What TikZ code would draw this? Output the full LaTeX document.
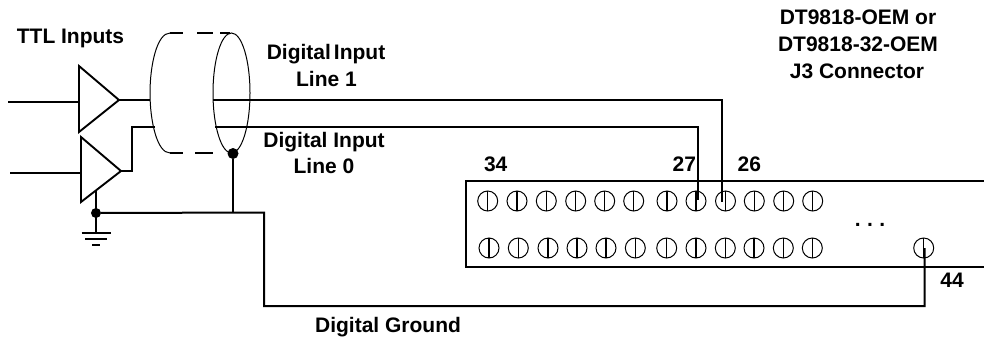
\documentclass[tikz,border=0pt]{standalone}
\usepackage{fontspec}
\usetikzlibrary{shapes.geometric}
\setmainfont{Liberation Sans}
\tikzset{
  x=1pt,y=-1pt,
  wire/.style={line width=2pt,line cap=butt,line join=miter},
  shield/.style={line width=1pt},
  lbl/.style={font=\bfseries\fontsize{21}{25}\selectfont,inner sep=0pt,anchor=base,text=black},
  pinbody/.style={circle,draw,line width=1pt,minimum size=20pt,inner sep=0pt,
    path picture={\draw[line width=1.4pt] (path picture bounding box.north) -- (path picture bounding box.south);}},
  joint/.style={circle,fill=black,minimum size=#1,inner sep=0pt},
  buffer/.style={line width=1.9pt,line join=miter,fill=white}
}
\begin{document}
\begin{tikzpicture}
\useasboundingbox (0,0) rectangle (984,338);
% shield
\node[ellipse,draw,shield,minimum width=37pt,minimum height=120pt,inner sep=0pt] at (231.5,93) (shieldend) {};
\draw[shield] (170,33) .. controls (157,33) and (150,65) .. (150,93) .. controls (150,121) and (157,153) .. (170,153);
\draw[line width=1.7pt] (170,33) -- (183,33) (197,33) -- (213,33) (220,33) -- (230,33);
\draw[line width=1.7pt] (170,153) -- (183,153) (195,153) -- (213,153);
% connector block
\coordinate (boxtr) at (984,181);
\coordinate (boxtl) at (466,181);
\coordinate (boxbl) at (466,266.5);
\coordinate (boxbr) at (984,266.5);
\draw[wire] (boxtr) -- (boxtl) -- (boxbl) -- (boxbr);
\foreach \n/\x in {a/487.7,b/517,c/546.3,d/575.7,e/604.7,f/633.7,g/667,h/696,i/725.5,j/754.3,k/783.7,l/812.7}
  \node[pinbody] (top\n) at (\x,201) {};
\foreach \n/\x in {a/489,b/518.3,c/548,d/577,e/606,f/635.3,g/666.7,h/696,i/725.3,j/754,k/783.3,l/812.3,m/923.7}
  \node[pinbody] (bot\n) at (\x,248) {};
% buffers
\coordinate (tonea) at (79,66); \coordinate (toneb) at (79,132); \coordinate (toneo) at (119,100);
\coordinate (ttwoa) at (81,137); \coordinate (ttwob) at (81,202); \coordinate (ttwoo) at (121,171);
\coordinate (inone) at (8,101.5); \coordinate (inonee) at (79,101.5);
\coordinate (intwo) at (10,172.5); \coordinate (intwoe) at (81,172.5);
\draw[wire] (inone) -- (inonee);
\draw[wire] (intwo) -- (intwoe);
\draw[buffer] (tonea) -- (toneb) -- (toneo) -- cycle;
\draw[buffer] (ttwoa) -- (ttwob) -- (ttwoo) -- cycle;
% signal lines
\coordinate (lineonea) at (213,100); \coordinate (lineoneb) at (721.7,100); \coordinate (lineonec) at (721.7,202);
\coordinate (linezeroa) at (215,127); \coordinate (linezerob) at (697.5,127); \coordinate (linezeroc) at (697.5,200);
\coordinate (sigstub) at (150,100);
\coordinate (zstuba) at (132,171); \coordinate (zstubb) at (132,127); \coordinate (zstubc) at (155,127);
\draw[wire] (toneo) -- (sigstub);
\draw[wire] (ttwoo) -- (zstuba) -- (zstubb) -- (zstubc);
\draw[wire] (lineonea) -- (lineoneb) -- (lineonec);
\draw[wire] (linezeroa) -- (linezerob) -- (linezeroc);
% ground
\node[joint=11pt] (shdot) at (233,153.5) {};
\node[joint=10pt] (gdot) at (96,213) {};
\coordinate (gtop) at (96,190); \coordinate (gbot) at (96,233);
\coordinate (gnd1) at (233,212.5); \coordinate (gnd2) at (264,212.5); \coordinate (gnd3) at (264,306);
\coordinate (gnd4) at (924.5,306); \coordinate (gnd5) at (924.5,248);
\draw[wire] (gtop) -- (gbot);
\draw[wire] (shdot) -- (gnd1);
\draw[wire] (gdot) -- (gnd2) -- (gnd3) -- (gnd4) -- (gnd5);
\draw[wire] (81.5,233) -- (110.5,233) (85,238.5) -- (107,238.5) (92,244.5) -- (100,244.5);
% labels
\node[lbl] (ttl) at (70.5,43) {TTL Inputs};
\node[lbl] (dione) at (326,59.5) {Digital\kern3pt Input};
\node[lbl] (lone) at (326.5,86.5) {Line 1};
\node[lbl] (dizero) at (324,147.5) {Digital Input};
\node[lbl] (lzero) at (324,173.5) {Line 0};
\node[lbl] (ta) at (858,24.5) {DT9818-OEM or};
\node[lbl] (tb) at (858,51.5) {DT9818-32-OEM};
\node[lbl] (tc) at (857,78.5) {J3 Connector};
\node[lbl] (n34) at (495.7,171.5) {34};
\node[lbl] (n27) at (684.3,171.5) {27};
\node[lbl] (n26) at (749.3,171) {26};
\node[lbl] (n44) at (952,287) {44};
\node[lbl] (dots) at (870,226.5) {.\kern6.5pt.\kern6.5pt.};
\node[lbl] (dg) at (388,332.5) {Digital Ground};
\end{tikzpicture}
\end{document}
